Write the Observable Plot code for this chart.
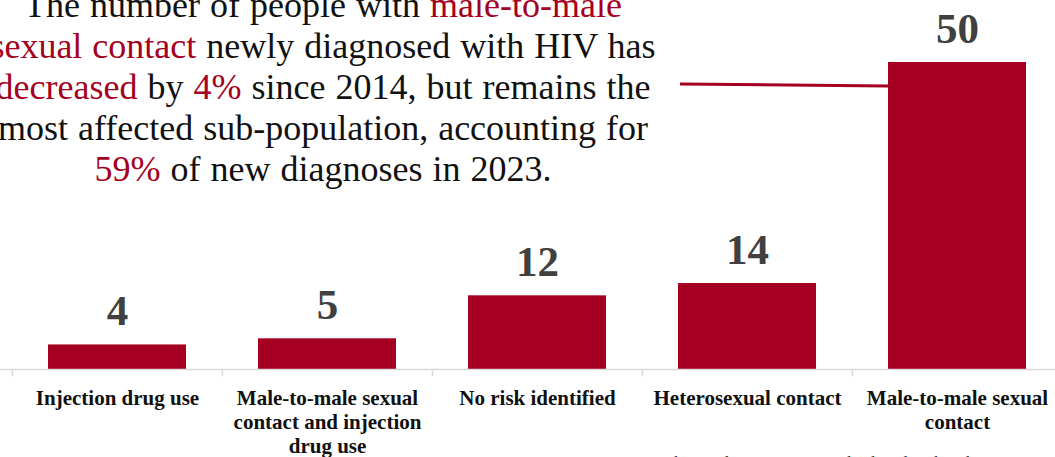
<!DOCTYPE html>
<html>
<head>
<meta charset="utf-8">
<script src="https://cdn.jsdelivr.net/npm/d3@7"></script>
<script src="https://cdn.jsdelivr.net/npm/@observablehq/plot@0.6"></script>
<style>
  html, body { margin: 0; padding: 0; background: #fff; overflow: hidden; width: 1055px; height: 457px; }
  #wrap { position: relative; width: 1055px; height: 457px; overflow: hidden; }
  #note {
    position: absolute; left: -100px; width: 846px; top: -15px;
    text-align: center; font-family: "Liberation Serif", "Times New Roman", serif;
    font-size: 36px; line-height: 41px; color: #111; white-space: nowrap; word-spacing: 1px;
  }
  #note .hl { color: #A50021; }
  #caption {
    position: absolute; left: 600px; top: 453px; white-space: nowrap;
    font-family: "Liberation Serif", serif; font-size: 17px; color: #333;
  }
</style>
</head>
<body>
<div id="wrap">
  <div id="chart"></div>
  <div id="note">The number of people with <span class="hl">male-to-male</span><br><span class="hl">sexual contact</span> newly diagnosed with HIV has<br><span class="hl">decreased</span> by <span class="hl">4%</span> since 2014, but remains the<br>most affected sub-population, accounting for<br><span class="hl">59%</span> of new diagnoses in 2023.</div>
  <div id="caption">*Cases with zero diagnoses are not displayed in this chart</div>
</div>
<script>
const categories = [
  "Injection drug use",
  "Male-to-male sexual contact and injection drug use",
  "No risk identified",
  "Heterosexual contact",
  "Male-to-male sexual contact"
];
const tickLabels = [
  "Injection drug use",
  "Male-to-male sexual\ncontact and injection\ndrug use",
  "No risk identified",
  "Heterosexual contact",
  "Male-to-male sexual\ncontact"
];
const values = [4, 5, 12, 14, 50];

const data = categories.map((c, i) => ({category: c, value: values[i], label: tickLabels[i]}));

const BAR = "#A50021";
const serif = "Liberation Serif, Times New Roman, serif";

const chart = Plot.plot({
  width: 1055,
  height: 457,
  marginTop: 0, marginBottom: 0, marginLeft: 0, marginRight: 0,
  style: {fontFamily: serif, background: "transparent", overflow: "visible"},
  x: {domain: categories, range: [11, 1062.25], paddingInner: 0.344, paddingOuter: 0.172, axis: null},
  y: {domain: [0, 50], range: [369, 62], axis: null},
  marks: [
    Plot.barY(data, {x: "category", y: "value", fill: BAR}),
    Plot.ruleY([0], {stroke: "#d9d9d9", strokeWidth: 1.5}),
    Plot.ruleX(data, {x: "category", dx: -105.1, y1: 0, y2: -1.2, stroke: "#d9d9d9", strokeWidth: 1.5}),
    Plot.text(data, {x: "category", y: "value", text: d => String(d.value), dy: -19.5, lineAnchor: "bottom",
      fontSize: 43, fontWeight: "bold", fill: "#404040", fontFamily: serif}),
    Plot.text(data, {x: "category", y: () => 0, text: "label", lineAnchor: "top", dy: 18,
      fontSize: 21, fontWeight: "bold", fill: "#111", lineHeight: 1.143, fontFamily: serif})
  ]
});
document.getElementById("chart").appendChild(chart);

// connector from annotation to the tallest bar
const xs = chart.scale("x"), ys = chart.scale("y");
const last = categories[categories.length - 1];
const x2 = xs.apply(last);
d3.select(chart).append("line")
  .attr("x1", 680).attr("y1", ys.apply(46.4))
  .attr("x2", x2).attr("y2", ys.apply(46.1))
  .attr("stroke", BAR).attr("stroke-width", 3);
</script>
</body>
</html>
